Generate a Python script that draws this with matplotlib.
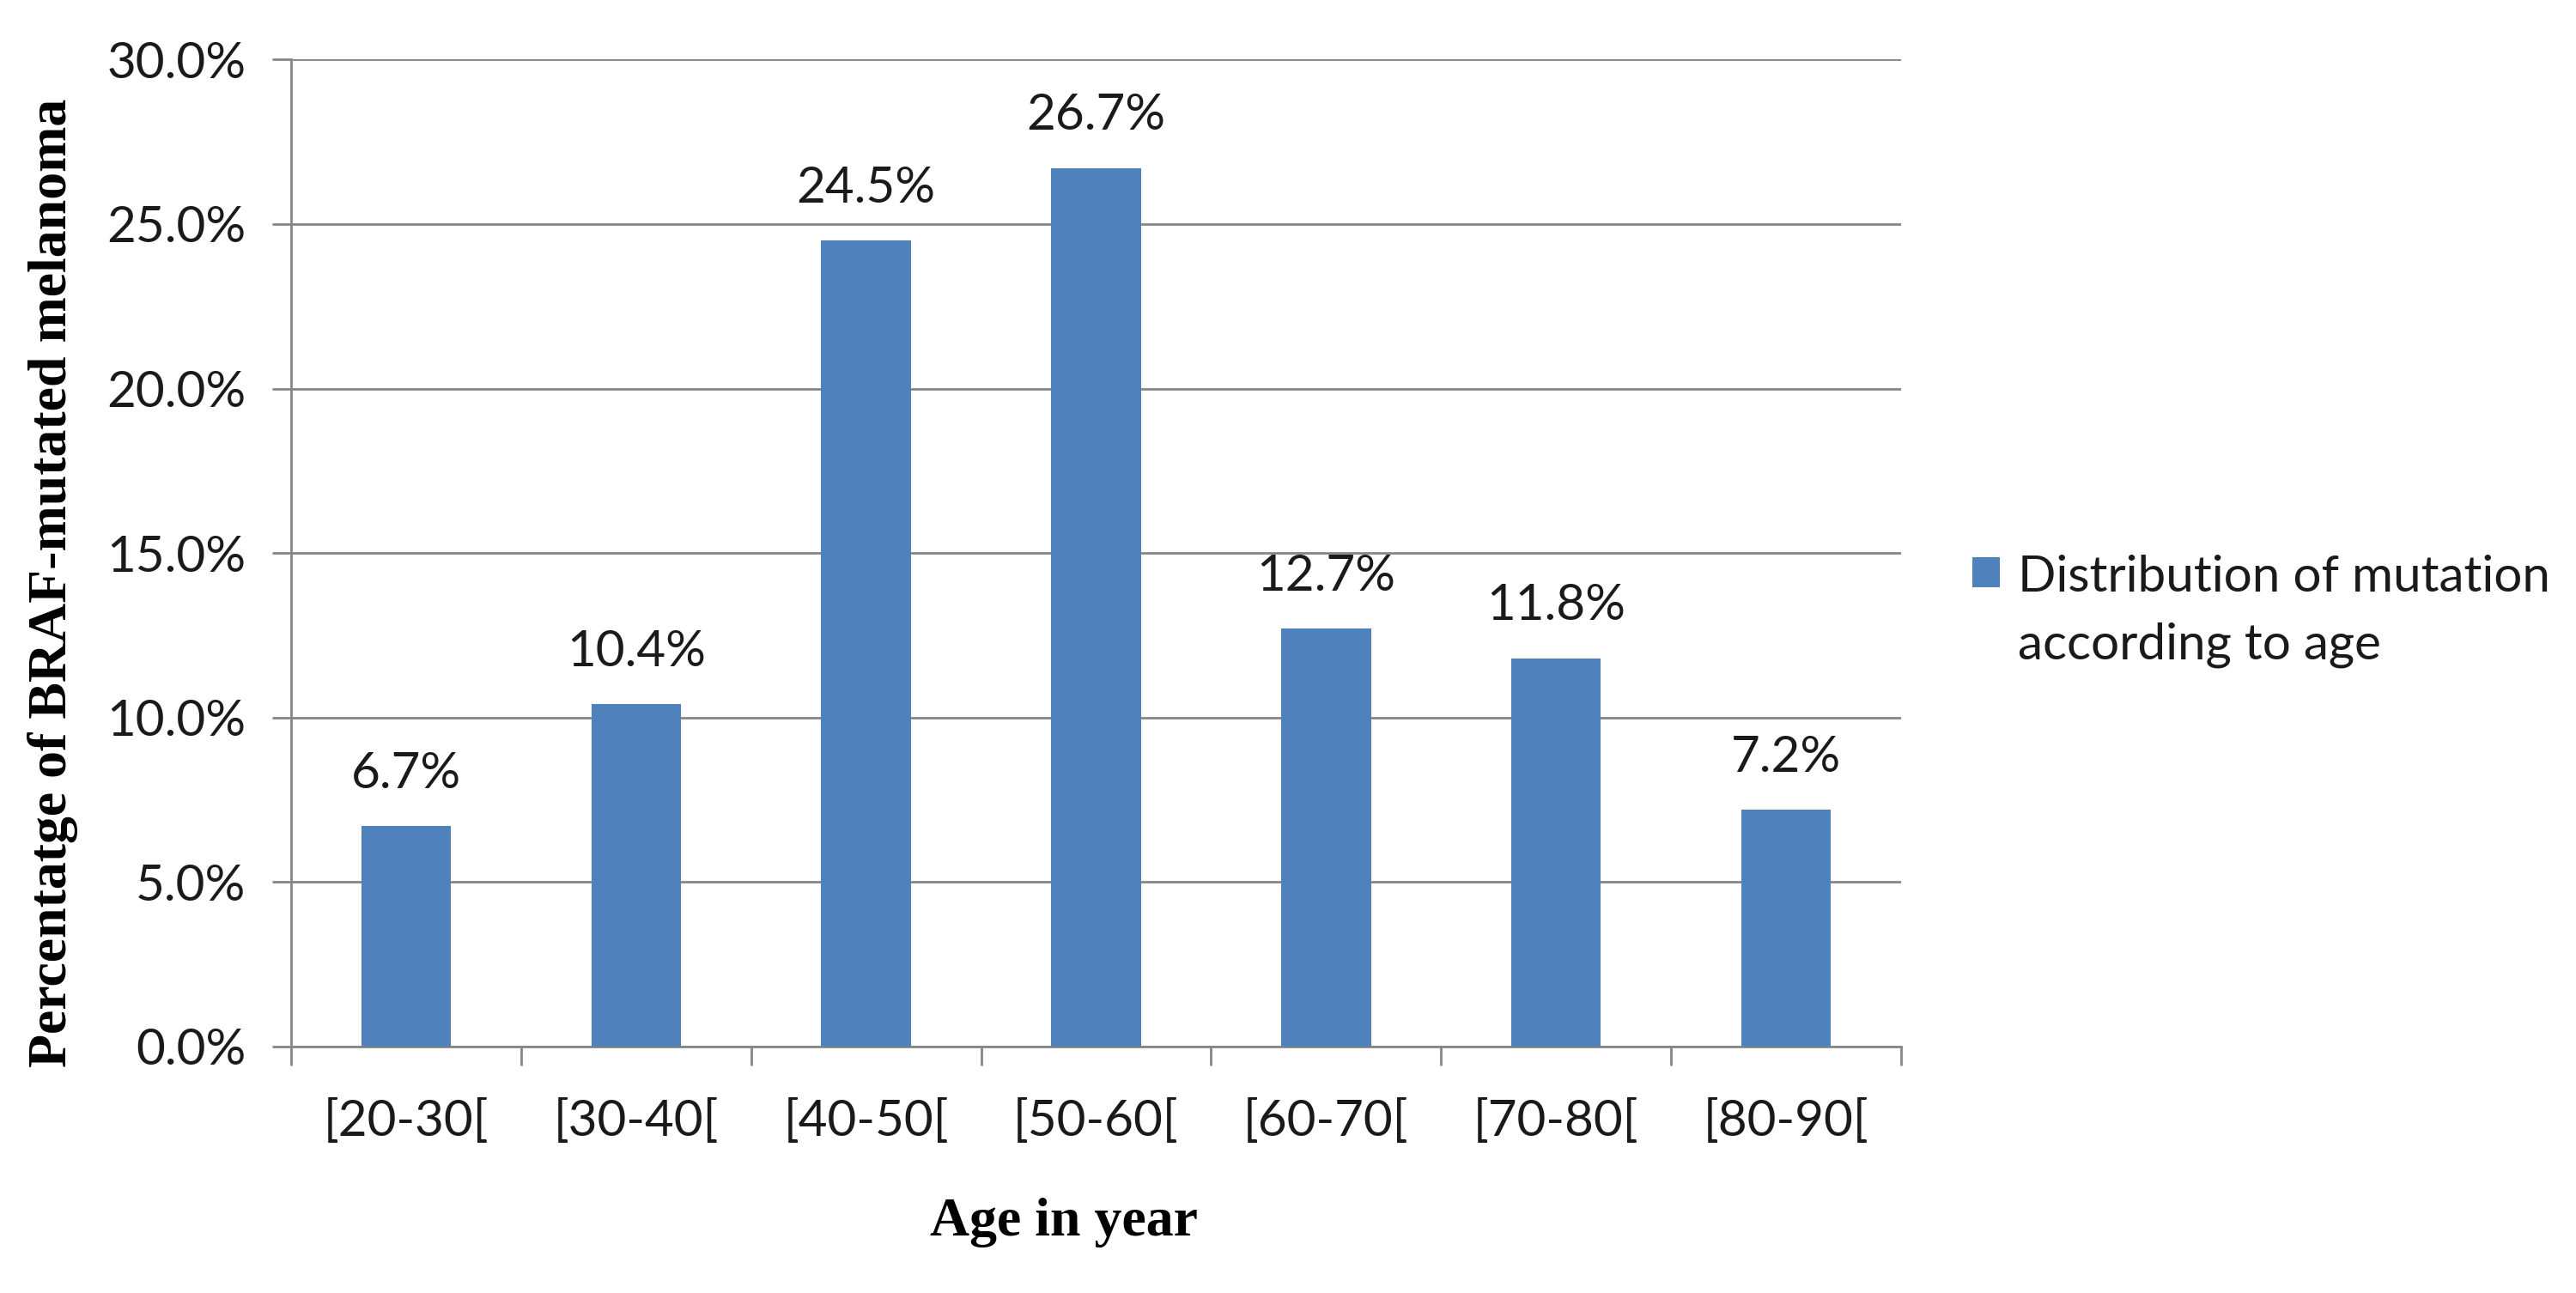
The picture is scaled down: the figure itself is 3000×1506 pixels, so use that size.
import numpy as np
import matplotlib.pyplot as plt
from matplotlib.ticker import FuncFormatter, FixedLocator
from matplotlib.legend_handler import HandlerPatch
from matplotlib.patches import Rectangle

# data
age_groups = ["[20-30[", "[30-40[", "[40-50[", "[50-60[", "[60-70[", "[70-80[", "[80-90["]
pct_values = [6.7, 10.4, 24.5, 26.7, 12.7, 11.8, 7.2]
series_name = "Distribution of mutation\naccording to age"

bar_color = "#4F81BD"
grid_color = "#868686"
text_color = "#1a1a1a"
sans = ["Lato", "DejaVu Sans"]
serif = ["Liberation Serif", "DejaVu Serif"]

fig = plt.figure(figsize=(30, 15.06), dpi=100)
ax = fig.add_axes([0.113, 0.1906, 0.625, 0.7634])

x = np.arange(len(age_groups))
bars = ax.bar(x, pct_values, width=0.39, color=bar_color, zorder=3, label=series_name)

# value labels above bars
for xi, v in zip(x, pct_values):
    ax.text(xi, v + 0.9, f"{v:.1f}%", ha="center", va="bottom",
            fontsize=42, family=sans, color=text_color)

ax.set_xlim(-0.5, len(age_groups) - 0.5)
ax.set_ylim(0, 30)
ax.set_yticks(np.arange(0, 31, 5))
ax.yaxis.set_major_formatter(FuncFormatter(lambda v, p: f"{v:.1f}%"))
ax.yaxis.grid(True, color=grid_color, linewidth=2.0, zorder=0)

ax.set_xticks(x)
ax.set_xticklabels(age_groups)
ax.xaxis.set_minor_locator(FixedLocator(np.arange(-0.5, len(age_groups), 1.0)))
ax.tick_params(axis="x", which="major", length=0, pad=44, labelsize=42)
ax.tick_params(axis="x", which="minor", length=16, width=2, color=grid_color)
ax.tick_params(axis="y", length=16, width=2, color=grid_color, pad=22, labelsize=42)
for lab in ax.get_xticklabels() + ax.get_yticklabels():
    lab.set_family(sans)
    lab.set_color(text_color)

for side in ["top", "right"]:
    ax.spines[side].set_visible(False)
for side in ["left", "bottom"]:
    ax.spines[side].set_color(grid_color)
    ax.spines[side].set_linewidth(2.0)

ax.set_ylabel("Percentatge of BRAF-mutated melanoma", fontsize=46,
              fontweight="bold", family=serif)
ax.yaxis.set_label_coords(-0.132, 0.47)
ax.set_xlabel("Age in year", fontsize=46, fontweight="bold", family=serif)
ax.xaxis.set_label_coords(0.48, -0.153)


# legend square sits next to the first line of the two-line label
def top_square(legend, orig_handle, xdescent, ydescent, width, height, fontsize):
    return Rectangle((-xdescent, -ydescent + 0.8 * fontsize), width, height)


def copy_bar_style(legend_handle, orig_handle):
    legend_handle.update_from(orig_handle.patches[0])


leg = fig.legend(loc="center left", bbox_to_anchor=(0.756, 0.527), frameon=False,
                 prop={"family": sans, "size": 42}, handlelength=0.55, handleheight=0.55,
                 handletextpad=0.36, borderpad=0,
                 handler_map={type(bars): HandlerPatch(patch_func=top_square,
                                                       update_func=copy_bar_style)})
for t in leg.get_texts():
    t.set_color(text_color)
    t.set_linespacing(1.6)

fig.savefig("out.png", dpi=100, facecolor="white")
